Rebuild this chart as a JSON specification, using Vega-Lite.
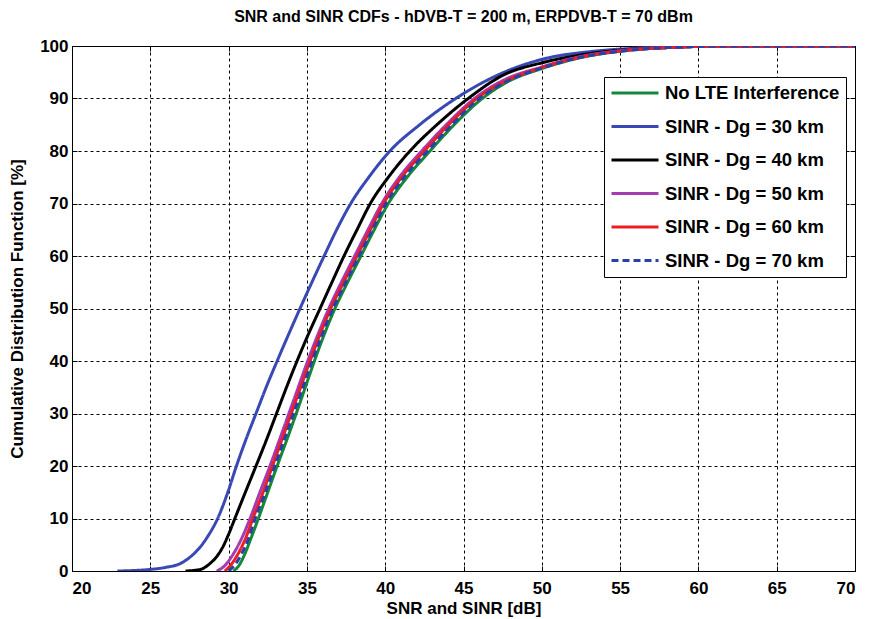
{
  "$schema": "https://vega.github.io/schema/vega-lite/v6.json",
  "autosize": "none",
  "width": 783,
  "height": 525,
  "padding": {"left": 72, "top": 46, "right": 16, "bottom": 48},
  "background": "white",
  "title": {
    "text": "SNR and SINR CDFs - hDVB-T = 200 m, ERPDVB-T = 70 dBm",
    "font": "Liberation Sans",
    "fontSize": 16,
    "fontWeight": "bold",
    "color": "black",
    "offset": 12,
    "anchor": "middle"
  },
  "config": {
    "view": {"stroke": "black", "strokeWidth": 1},
    "axis": {
      "labelFont": "Liberation Sans",
      "labelFontSize": 17,
      "labelFontWeight": "bold",
      "labelColor": "black",
      "titleFont": "Liberation Sans",
      "titleFontSize": 17,
      "titleFontWeight": "bold",
      "titleColor": "black",
      "domainColor": "black",
      "tickColor": "black",
      "tickSize": -5,
      "gridColor": "black",
      "gridOpacity": 1,
      "gridDash": [3, 3],
      "gridWidth": 1
    }
  },
  "datasets": {
    "cdf": [
      {"s": "No LTE Interference", "x": 30.3, "y": 0},
      {"s": "No LTE Interference", "x": 30.65, "y": 1},
      {"s": "No LTE Interference", "x": 31.0, "y": 3},
      {"s": "No LTE Interference", "x": 31.4, "y": 6},
      {"s": "No LTE Interference", "x": 31.9, "y": 10},
      {"s": "No LTE Interference", "x": 32.5, "y": 15},
      {"s": "No LTE Interference", "x": 33.1, "y": 20},
      {"s": "No LTE Interference", "x": 33.72, "y": 25},
      {"s": "No LTE Interference", "x": 34.32, "y": 30},
      {"s": "No LTE Interference", "x": 34.9, "y": 35},
      {"s": "No LTE Interference", "x": 35.48, "y": 40},
      {"s": "No LTE Interference", "x": 36.1, "y": 45},
      {"s": "No LTE Interference", "x": 36.79, "y": 50},
      {"s": "No LTE Interference", "x": 37.6, "y": 55},
      {"s": "No LTE Interference", "x": 38.45, "y": 60},
      {"s": "No LTE Interference", "x": 39.3, "y": 65},
      {"s": "No LTE Interference", "x": 40.2, "y": 70},
      {"s": "No LTE Interference", "x": 41.4, "y": 75},
      {"s": "No LTE Interference", "x": 42.86, "y": 80},
      {"s": "No LTE Interference", "x": 44.4, "y": 85},
      {"s": "No LTE Interference", "x": 46.2, "y": 90},
      {"s": "No LTE Interference", "x": 47.7, "y": 93},
      {"s": "No LTE Interference", "x": 50, "y": 95.7},
      {"s": "No LTE Interference", "x": 52.5, "y": 97.8},
      {"s": "No LTE Interference", "x": 55, "y": 99},
      {"s": "No LTE Interference", "x": 58, "y": 99.7},
      {"s": "No LTE Interference", "x": 62, "y": 100},
      {"s": "No LTE Interference", "x": 70, "y": 100},

      {"s": "SINR - Dg = 30 km", "x": 22.9, "y": 0},
      {"s": "SINR - Dg = 30 km", "x": 24, "y": 0.1},
      {"s": "SINR - Dg = 30 km", "x": 25, "y": 0.3},
      {"s": "SINR - Dg = 30 km", "x": 26, "y": 0.7},
      {"s": "SINR - Dg = 30 km", "x": 26.9, "y": 1.4},
      {"s": "SINR - Dg = 30 km", "x": 27.6, "y": 2.8},
      {"s": "SINR - Dg = 30 km", "x": 28.17, "y": 4.5},
      {"s": "SINR - Dg = 30 km", "x": 28.65, "y": 6.5},
      {"s": "SINR - Dg = 30 km", "x": 29.3, "y": 10},
      {"s": "SINR - Dg = 30 km", "x": 29.95, "y": 15},
      {"s": "SINR - Dg = 30 km", "x": 30.5, "y": 20},
      {"s": "SINR - Dg = 30 km", "x": 31.1, "y": 25},
      {"s": "SINR - Dg = 30 km", "x": 31.75, "y": 30},
      {"s": "SINR - Dg = 30 km", "x": 32.4, "y": 35},
      {"s": "SINR - Dg = 30 km", "x": 33.1, "y": 40},
      {"s": "SINR - Dg = 30 km", "x": 33.82, "y": 45},
      {"s": "SINR - Dg = 30 km", "x": 34.56, "y": 50},
      {"s": "SINR - Dg = 30 km", "x": 35.32, "y": 55},
      {"s": "SINR - Dg = 30 km", "x": 36.1, "y": 60},
      {"s": "SINR - Dg = 30 km", "x": 36.9, "y": 65},
      {"s": "SINR - Dg = 30 km", "x": 37.8, "y": 70},
      {"s": "SINR - Dg = 30 km", "x": 38.95, "y": 75},
      {"s": "SINR - Dg = 30 km", "x": 40.3, "y": 80},
      {"s": "SINR - Dg = 30 km", "x": 42.2, "y": 85},
      {"s": "SINR - Dg = 30 km", "x": 44.5, "y": 90},
      {"s": "SINR - Dg = 30 km", "x": 46.2, "y": 93},
      {"s": "SINR - Dg = 30 km", "x": 48, "y": 95.5},
      {"s": "SINR - Dg = 30 km", "x": 50.5, "y": 97.8},
      {"s": "SINR - Dg = 30 km", "x": 53, "y": 98.9},
      {"s": "SINR - Dg = 30 km", "x": 55.5, "y": 99.5},
      {"s": "SINR - Dg = 30 km", "x": 58, "y": 99.8},
      {"s": "SINR - Dg = 30 km", "x": 62, "y": 100},
      {"s": "SINR - Dg = 30 km", "x": 70, "y": 100},

      {"s": "SINR - Dg = 40 km", "x": 27.25, "y": 0},
      {"s": "SINR - Dg = 40 km", "x": 28.2, "y": 0.3},
      {"s": "SINR - Dg = 40 km", "x": 28.8, "y": 1.4},
      {"s": "SINR - Dg = 40 km", "x": 29.2, "y": 2.6},
      {"s": "SINR - Dg = 40 km", "x": 29.6, "y": 4.4},
      {"s": "SINR - Dg = 40 km", "x": 30.0, "y": 7},
      {"s": "SINR - Dg = 40 km", "x": 30.4, "y": 10},
      {"s": "SINR - Dg = 40 km", "x": 31.07, "y": 15},
      {"s": "SINR - Dg = 40 km", "x": 31.75, "y": 20},
      {"s": "SINR - Dg = 40 km", "x": 32.42, "y": 25},
      {"s": "SINR - Dg = 40 km", "x": 33.06, "y": 30},
      {"s": "SINR - Dg = 40 km", "x": 33.7, "y": 35},
      {"s": "SINR - Dg = 40 km", "x": 34.37, "y": 40},
      {"s": "SINR - Dg = 40 km", "x": 35.08, "y": 45},
      {"s": "SINR - Dg = 40 km", "x": 35.84, "y": 50},
      {"s": "SINR - Dg = 40 km", "x": 36.6, "y": 55},
      {"s": "SINR - Dg = 40 km", "x": 37.37, "y": 60},
      {"s": "SINR - Dg = 40 km", "x": 38.2, "y": 65},
      {"s": "SINR - Dg = 40 km", "x": 39.05, "y": 70},
      {"s": "SINR - Dg = 40 km", "x": 40.2, "y": 75},
      {"s": "SINR - Dg = 40 km", "x": 41.58, "y": 80},
      {"s": "SINR - Dg = 40 km", "x": 43.3, "y": 85},
      {"s": "SINR - Dg = 40 km", "x": 45.3, "y": 90},
      {"s": "SINR - Dg = 40 km", "x": 47.5, "y": 94.4},
      {"s": "SINR - Dg = 40 km", "x": 50, "y": 96.8},
      {"s": "SINR - Dg = 40 km", "x": 52.5, "y": 98.3},
      {"s": "SINR - Dg = 40 km", "x": 55, "y": 99.2},
      {"s": "SINR - Dg = 40 km", "x": 58, "y": 99.7},
      {"s": "SINR - Dg = 40 km", "x": 62, "y": 100},
      {"s": "SINR - Dg = 40 km", "x": 70, "y": 100},

      {"s": "SINR - Dg = 50 km", "x": 29.24, "y": 0},
      {"s": "SINR - Dg = 50 km", "x": 29.75, "y": 1},
      {"s": "SINR - Dg = 50 km", "x": 30.25, "y": 3},
      {"s": "SINR - Dg = 50 km", "x": 30.8, "y": 6},
      {"s": "SINR - Dg = 50 km", "x": 31.37, "y": 10},
      {"s": "SINR - Dg = 50 km", "x": 32.0, "y": 15},
      {"s": "SINR - Dg = 50 km", "x": 32.64, "y": 20},
      {"s": "SINR - Dg = 50 km", "x": 33.25, "y": 25},
      {"s": "SINR - Dg = 50 km", "x": 33.85, "y": 30},
      {"s": "SINR - Dg = 50 km", "x": 34.45, "y": 35},
      {"s": "SINR - Dg = 50 km", "x": 35.05, "y": 40},
      {"s": "SINR - Dg = 50 km", "x": 35.7, "y": 45},
      {"s": "SINR - Dg = 50 km", "x": 36.4, "y": 50},
      {"s": "SINR - Dg = 50 km", "x": 37.2, "y": 55},
      {"s": "SINR - Dg = 50 km", "x": 38.05, "y": 60},
      {"s": "SINR - Dg = 50 km", "x": 38.9, "y": 65},
      {"s": "SINR - Dg = 50 km", "x": 39.78, "y": 70},
      {"s": "SINR - Dg = 50 km", "x": 40.9, "y": 75},
      {"s": "SINR - Dg = 50 km", "x": 42.33, "y": 80},
      {"s": "SINR - Dg = 50 km", "x": 43.9, "y": 85},
      {"s": "SINR - Dg = 50 km", "x": 45.7, "y": 90},
      {"s": "SINR - Dg = 50 km", "x": 47.5, "y": 93.4},
      {"s": "SINR - Dg = 50 km", "x": 50, "y": 96},
      {"s": "SINR - Dg = 50 km", "x": 52.5, "y": 98},
      {"s": "SINR - Dg = 50 km", "x": 55, "y": 99.1},
      {"s": "SINR - Dg = 50 km", "x": 58, "y": 99.7},
      {"s": "SINR - Dg = 50 km", "x": 62, "y": 100},
      {"s": "SINR - Dg = 50 km", "x": 70, "y": 100},

      {"s": "SINR - Dg = 60 km", "x": 29.75, "y": 0},
      {"s": "SINR - Dg = 60 km", "x": 30.1, "y": 1},
      {"s": "SINR - Dg = 60 km", "x": 30.55, "y": 3},
      {"s": "SINR - Dg = 60 km", "x": 31.05, "y": 6},
      {"s": "SINR - Dg = 60 km", "x": 31.55, "y": 10},
      {"s": "SINR - Dg = 60 km", "x": 32.2, "y": 15},
      {"s": "SINR - Dg = 60 km", "x": 32.8, "y": 20},
      {"s": "SINR - Dg = 60 km", "x": 33.4, "y": 25},
      {"s": "SINR - Dg = 60 km", "x": 34.0, "y": 30},
      {"s": "SINR - Dg = 60 km", "x": 34.6, "y": 35},
      {"s": "SINR - Dg = 60 km", "x": 35.2, "y": 40},
      {"s": "SINR - Dg = 60 km", "x": 35.83, "y": 45},
      {"s": "SINR - Dg = 60 km", "x": 36.52, "y": 50},
      {"s": "SINR - Dg = 60 km", "x": 37.35, "y": 55},
      {"s": "SINR - Dg = 60 km", "x": 38.2, "y": 60},
      {"s": "SINR - Dg = 60 km", "x": 39.05, "y": 65},
      {"s": "SINR - Dg = 60 km", "x": 39.9, "y": 70},
      {"s": "SINR - Dg = 60 km", "x": 41.05, "y": 75},
      {"s": "SINR - Dg = 60 km", "x": 42.5, "y": 80},
      {"s": "SINR - Dg = 60 km", "x": 44.05, "y": 85},
      {"s": "SINR - Dg = 60 km", "x": 45.85, "y": 90},
      {"s": "SINR - Dg = 60 km", "x": 47.6, "y": 93.2},
      {"s": "SINR - Dg = 60 km", "x": 50, "y": 95.9},
      {"s": "SINR - Dg = 60 km", "x": 52.5, "y": 97.9},
      {"s": "SINR - Dg = 60 km", "x": 55, "y": 99.05},
      {"s": "SINR - Dg = 60 km", "x": 58, "y": 99.7},
      {"s": "SINR - Dg = 60 km", "x": 62, "y": 100},
      {"s": "SINR - Dg = 60 km", "x": 70, "y": 100},

      {"s": "SINR - Dg = 70 km", "x": 30.0, "y": 0},
      {"s": "SINR - Dg = 70 km", "x": 30.35, "y": 1},
      {"s": "SINR - Dg = 70 km", "x": 30.78, "y": 3},
      {"s": "SINR - Dg = 70 km", "x": 31.25, "y": 6},
      {"s": "SINR - Dg = 70 km", "x": 31.7, "y": 10},
      {"s": "SINR - Dg = 70 km", "x": 32.35, "y": 15},
      {"s": "SINR - Dg = 70 km", "x": 32.95, "y": 20},
      {"s": "SINR - Dg = 70 km", "x": 33.55, "y": 25},
      {"s": "SINR - Dg = 70 km", "x": 34.15, "y": 30},
      {"s": "SINR - Dg = 70 km", "x": 34.75, "y": 35},
      {"s": "SINR - Dg = 70 km", "x": 35.33, "y": 40},
      {"s": "SINR - Dg = 70 km", "x": 35.97, "y": 45},
      {"s": "SINR - Dg = 70 km", "x": 36.66, "y": 50},
      {"s": "SINR - Dg = 70 km", "x": 37.48, "y": 55},
      {"s": "SINR - Dg = 70 km", "x": 38.33, "y": 60},
      {"s": "SINR - Dg = 70 km", "x": 39.18, "y": 65},
      {"s": "SINR - Dg = 70 km", "x": 40.05, "y": 70},
      {"s": "SINR - Dg = 70 km", "x": 41.2, "y": 75},
      {"s": "SINR - Dg = 70 km", "x": 42.7, "y": 80},
      {"s": "SINR - Dg = 70 km", "x": 44.25, "y": 85},
      {"s": "SINR - Dg = 70 km", "x": 46.0, "y": 90},
      {"s": "SINR - Dg = 70 km", "x": 47.65, "y": 93.1},
      {"s": "SINR - Dg = 70 km", "x": 50, "y": 95.8},
      {"s": "SINR - Dg = 70 km", "x": 52.5, "y": 97.85},
      {"s": "SINR - Dg = 70 km", "x": 55, "y": 99.0},
      {"s": "SINR - Dg = 70 km", "x": 58, "y": 99.7},
      {"s": "SINR - Dg = 70 km", "x": 62, "y": 100},
      {"s": "SINR - Dg = 70 km", "x": 70, "y": 100}
    ]
  },
  "data": {"name": "cdf"},
  "layer": [
    {
      "mark": {"type": "line", "strokeWidth": 3, "clip": true, "interpolate": "monotone"},
      "encoding": {
        "x": {
          "field": "x",
          "type": "quantitative",
          "scale": {"domain": [20, 70], "nice": false, "zero": false},
          "axis": {"orient": "bottom", "grid": true, "values": [20, 25, 30, 35, 40, 45, 50, 55, 60, 65, 70], "title": "SNR and SINR [dB]", "labelPadding": 14, "titlePadding": 4}
        },
        "y": {
          "field": "y",
          "type": "quantitative",
          "scale": {"domain": [0, 100], "nice": false},
          "axis": {"orient": "left", "grid": true, "values": [0, 10, 20, 30, 40, 50, 60, 70, 80, 90, 100], "title": "Cumulative Distribution Function [%]", "labelPadding": 9, "titlePadding": 13}
        },
        "color": {
          "field": "s",
          "type": "nominal",
          "scale": {
            "domain": ["No LTE Interference", "SINR - Dg = 30 km", "SINR - Dg = 40 km", "SINR - Dg = 50 km", "SINR - Dg = 60 km", "SINR - Dg = 70 km"],
            "range": ["#13883a", "#3848b4", "#000000", "#a63ab0", "#ee1c25", "#2c3eaa"]
          },
          "legend": {
            "title": null,
            "orient": "none",
            "legendX": 532,
            "legendY": 31,
            "fillColor": "white",
            "strokeColor": "black",
            "padding": 6,
            "symbolType": "stroke",
            "symbolSize": 2209,
            "symbolStrokeWidth": 3,
            "clipHeight": 20,
            "rowPadding": 13.5,
            "labelFont": "Liberation Sans",
            "labelFontSize": 18.5,
            "labelFontWeight": "bold",
            "labelColor": "black",
            "labelOffset": 5,
            "labelLimit": 300
          }
        },
        "strokeDash": {
          "field": "s",
          "type": "nominal",
          "scale": {
            "domain": ["No LTE Interference", "SINR - Dg = 30 km", "SINR - Dg = 40 km", "SINR - Dg = 50 km", "SINR - Dg = 60 km", "SINR - Dg = 70 km"],
            "range": [[1, 0], [1, 0], [1, 0], [1, 0], [1, 0], [7, 4]]
          },
          "legend": null
        }
      }
    },
    {
      "mark": {"type": "line", "opacity": 0, "clip": true},
      "encoding": {
        "x": {
          "field": "x",
          "type": "quantitative",
          "scale": {"domain": [20, 70], "nice": false, "zero": false},
          "axis": {"orient": "top", "grid": false, "values": [20, 25, 30, 35, 40, 45, 50, 55, 60, 65, 70], "labels": false, "title": null, "domain": false}
        },
        "y": {
          "field": "y",
          "type": "quantitative",
          "scale": {"domain": [0, 100], "nice": false},
          "axis": {"orient": "right", "grid": false, "values": [0, 10, 20, 30, 40, 50, 60, 70, 80, 90, 100], "labels": false, "title": null, "domain": false}
        },
        "detail": {"field": "s", "type": "nominal"}
      }
    }
  ],
  "resolve": {"axis": {"x": "independent", "y": "independent"}}
}
